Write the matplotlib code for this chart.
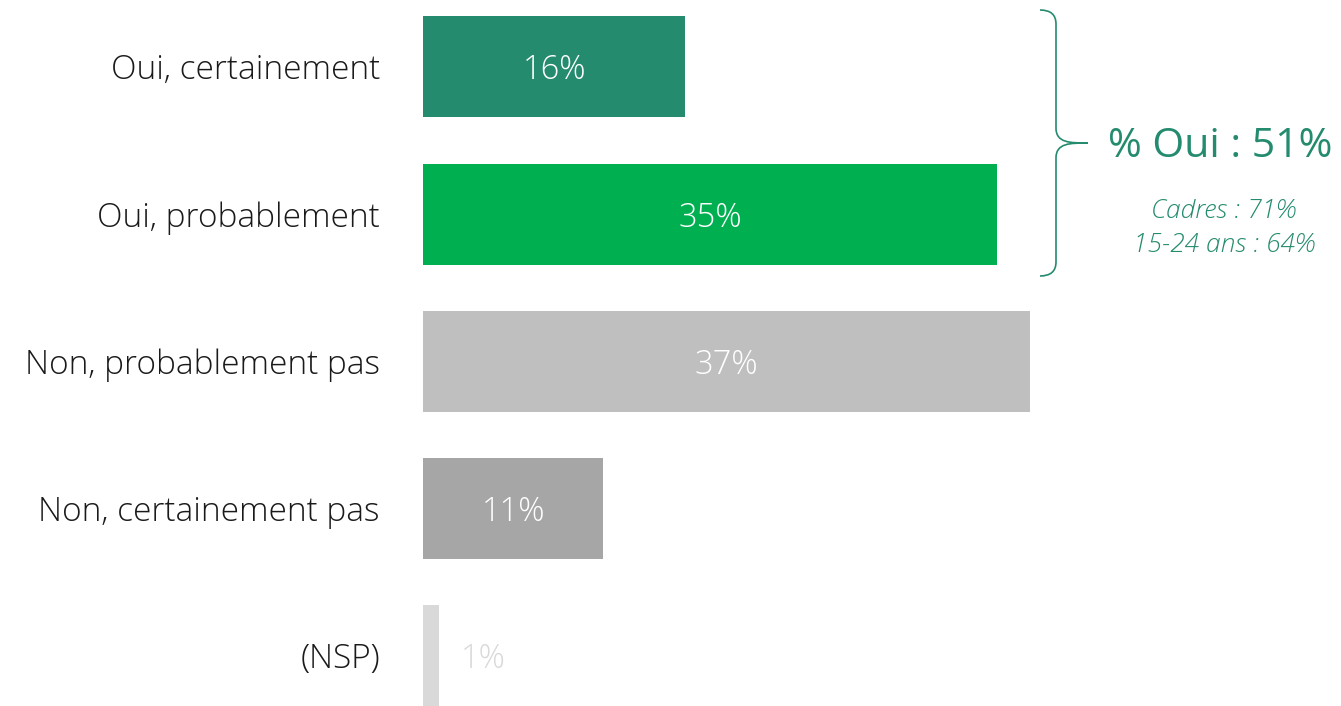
import matplotlib
matplotlib.use("Agg")
import matplotlib.pyplot as plt
from matplotlib.path import Path
from matplotlib.patches import PathPatch

plt.rcParams['font.family'] = ['Open Sans', 'DejaVu Sans']

# données
categories = ["Oui, certainement", "Oui, probablement", "Non, probablement pas",
              "Non, certainement pas", "(NSP)"]
values = [16, 35, 37, 11, 1]
colors = ["#258B6E", "#00B050", "#BFBFBF", "#A6A6A6", "#D9D9D9"]
total_oui = "% Oui : 51%"
sub_notes = ["Cadres : 71%", "15-24 ans : 64%"]

GREEN = "#258B6E"

fig = plt.figure(figsize=(13.41, 7.06), dpi=100)
ax = fig.add_axes([0, 0, 1, 1])

px_per_pct = 16.4
ax.set_xlim(-423 / px_per_pct, (1341 - 423) / px_per_pct)
ax.set_ylim(4.34, -0.455)
ax.axis("off")

y = list(range(len(categories)))
ax.barh(y, values, height=0.686, color=colors, left=0)

dy = 0.025  # petit décalage pour centrer le texte visuellement
for i, (cat, v) in enumerate(zip(categories, values)):
    ax.text(-43 / px_per_pct, i + dy, cat, ha="right", va="center",
            fontsize=24, fontweight="light", color="#1a1a1a")
    if v >= 5:
        ax.text(v / 2, i + dy, f"{v}%", ha="center", va="center",
                fontsize=23.5, fontweight="light", color="white")
    else:
        ax.text(v + 2.7, i + dy, f"{v}%", ha="center", va="center",
                fontsize=23.5, fontweight="light", color="#D9D9D9")

# accolade (coordonnées pixel)
ov = fig.add_axes([0, 0, 1, 1])
ov.set_xlim(0, 1341)
ov.set_ylim(706, 0)
ov.axis("off")
ov.patch.set_alpha(0)

verts = [(1040, 10), (1056, 10), (1056, 24),
         (1056, 128),
         (1056, 143), (1070, 143), (1088, 143),
         (1070, 143), (1056, 143), (1056, 158),
         (1056, 262),
         (1056, 276), (1040, 276)]
codes = [Path.MOVETO, Path.CURVE3, Path.CURVE3,
         Path.LINETO,
         Path.CURVE4, Path.CURVE4, Path.CURVE4,
         Path.CURVE4, Path.CURVE4, Path.CURVE4,
         Path.LINETO,
         Path.CURVE3, Path.CURVE3]
ov.add_patch(PathPatch(Path(verts, codes), fill=False, edgecolor=GREEN, lw=1.2))

ov.text(1220, 147, total_oui, ha="center", va="center", fontsize=29.5,
        color=GREEN)
ov.text(1224, 212, sub_notes[0], ha="center", va="center", fontsize=19,
        fontweight="light", style="italic", color=GREEN)
ov.text(1224, 246, sub_notes[1], ha="center", va="center", fontsize=19,
        fontweight="light", style="italic", color=GREEN)

fig.savefig("out.png", dpi=100)
